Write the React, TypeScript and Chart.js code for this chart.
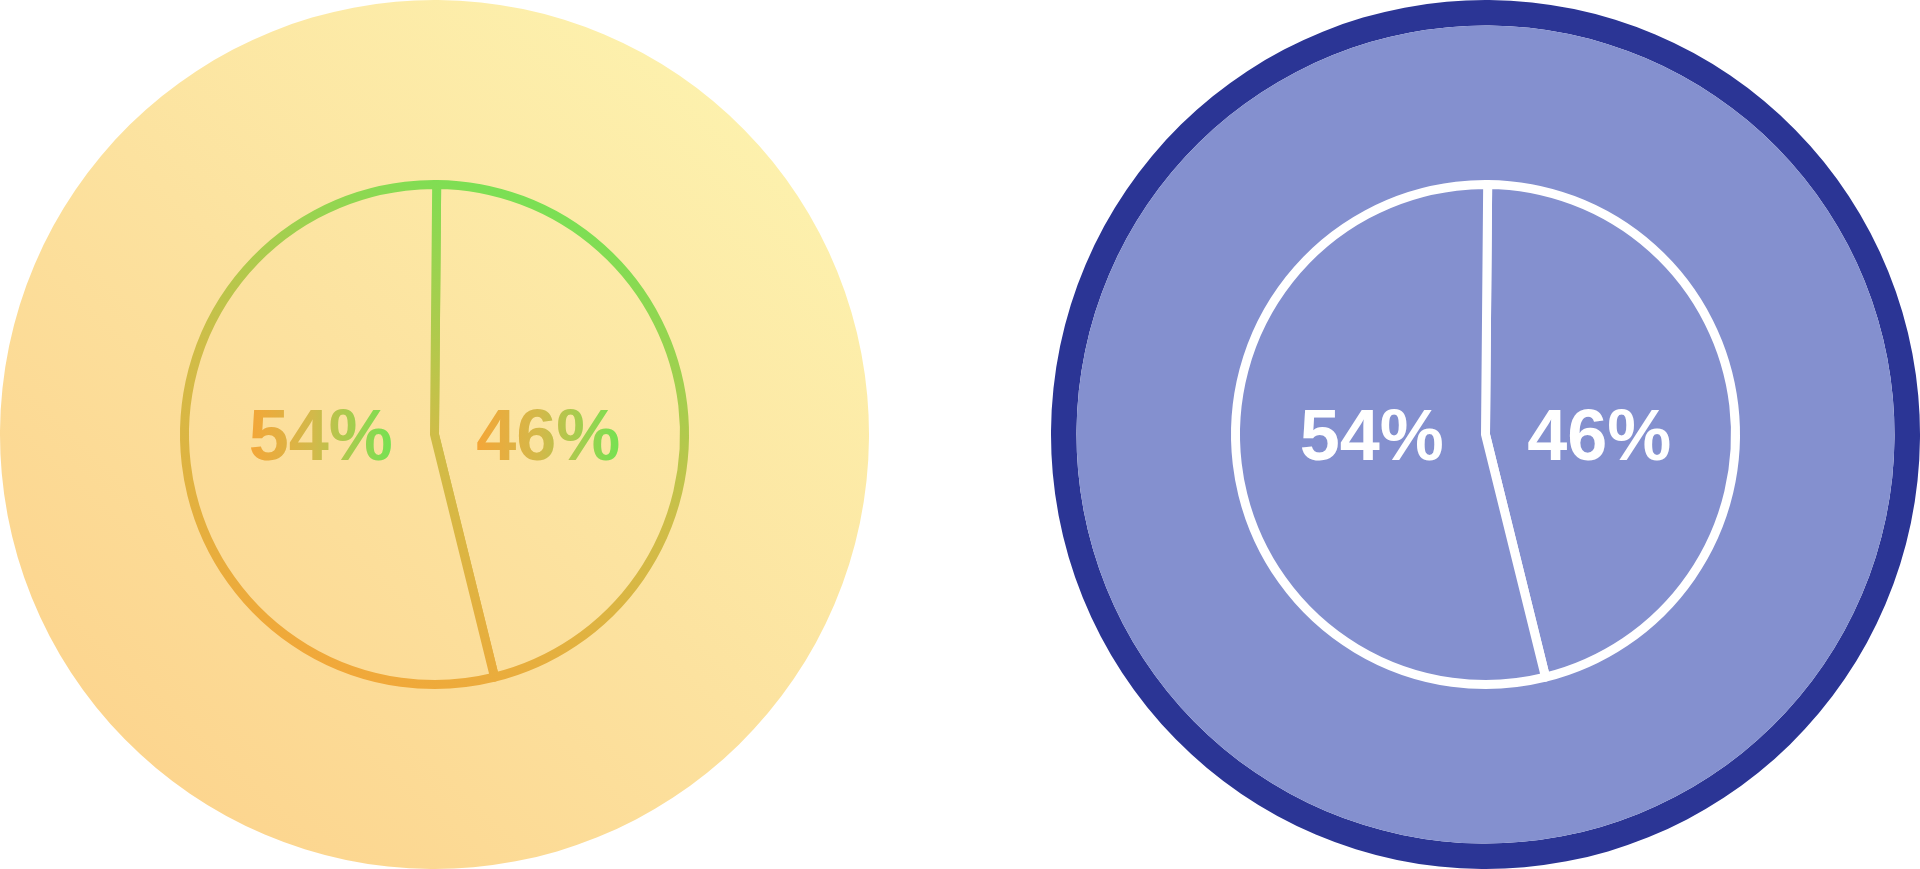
import React, { useEffect, useRef } from "react";
import { Chart, registerables } from "chart.js";

Chart.register(...registerables);

// ---- data ----
const sliceNames = ["Segment A", "Segment B"];
const sliceValues = [46, 54];
const discValue = [1];

const SIZE = 869;

type Variant = "warm" | "blue";

const sliceLabelPlugin = {
  id: "sliceLabels",
  afterDatasetsDraw(chart: any, _args: any, opts: any) {
    const ctx = chart.ctx;
    const idx = chart.data.datasets.length - 1;
    const meta = chart.getDatasetMeta(idx);
    const values = chart.data.datasets[idx].data as number[];
    const fontSize = opts.fontSize || 71;
    ctx.save();
    ctx.font = `bold ${fontSize}px "Liberation Sans", Arial, Helvetica, sans-serif`;
    ctx.textAlign = "center";
    ctx.textBaseline = "alphabetic";
    meta.data.forEach((arc: any, i: number) => {
      const p = arc.getProps(["x", "y", "startAngle", "endAngle", "outerRadius"], true);
      const mid = (p.startAngle + p.endAngle) / 2;
      const lx = p.x + Math.cos(mid) * p.outerRadius * 0.458;
      const ly = p.y + fontSize * 0.36;
      const text = `${values[i]}%`;
      let style: any = opts.color || "#ffffff";
      if (opts.gradientText) {
        const w = ctx.measureText(text).width;
        const g = ctx.createLinearGradient(lx - w / 2, 0, lx + w / 2, 0);
        g.addColorStop(0, "#f4a638");
        g.addColorStop(0.45, "#d2b94a");
        g.addColorStop(1, "#74e252");
        style = g;
      }
      ctx.fillStyle = style;
      ctx.fillText(text, lx, ly);
    });
    ctx.restore();
  },
};

function buildConfig(variant: Variant, ctx: CanvasRenderingContext2D) {
  const c = SIZE / 2;
  const outer = 434.5;
  const pieR = 250;
  let datasets: any[];
  if (variant === "warm") {
    const bg = ctx.createLinearGradient(90, 810, 780, 60);
    bg.addColorStop(0, "#fcd38c");
    bg.addColorStop(0.5, "#fce29f");
    bg.addColorStop(1, "#fdf3af");
    const stroke = ctx.createLinearGradient(c - 100, c + 260, c + 100, c - 260);
    stroke.addColorStop(0, "#f4a638");
    stroke.addColorStop(0.5, "#cfbd48");
    stroke.addColorStop(1, "#72e355");
    datasets = [
      {
        label: "disc",
        data: discValue,
        backgroundColor: bg,
        borderWidth: 0,
        weight: outer - pieR,
        order: 1,
        radius: outer,
      },
      {
        label: "share",
        data: sliceValues,
        backgroundColor: bg,
        borderColor: stroke,
        borderWidth: 9,
        borderJoinStyle: "round",
        weight: pieR,
        order: 0,
        radius: outer,
      },
    ];
  } else {
    const ringW = 25.5;
    datasets = [
      {
        label: "ring",
        data: discValue,
        backgroundColor: "#2b3595",
        borderWidth: 0,
        weight: ringW,
        order: 2,
        radius: outer,
      },
      {
        label: "disc",
        data: discValue,
        backgroundColor: "#8490cf",
        borderWidth: 0,
        weight: outer - ringW - pieR,
        order: 1,
        radius: outer,
      },
      {
        label: "share",
        data: sliceValues,
        backgroundColor: "#8490cf",
        borderColor: "#ffffff",
        borderWidth: 9,
        borderJoinStyle: "round",
        weight: pieR,
        order: 0,
        radius: outer,
      },
    ];
  }
  return {
    type: "pie" as const,
    data: { labels: sliceNames, datasets },
    options: {
      responsive: false,
      maintainAspectRatio: false,
      animation: false as const,
      events: [] as any[],
      rotation: 0.5,
      layout: { padding: 0 },
      plugins: {
        legend: { display: false },
        tooltip: { enabled: false },
        sliceLabels: { gradientText: variant === "warm", color: "#ffffff", fontSize: 72 },
      },
    },
    plugins: [sliceLabelPlugin],
  };
}

function PieIcon({ variant, left }: { variant: Variant; left: number }) {
  const ref = useRef<HTMLCanvasElement | null>(null);
  useEffect(() => {
    const canvas = ref.current;
    if (!canvas) return;
    const ctx = canvas.getContext("2d") as CanvasRenderingContext2D;
    const chart = new Chart(canvas, buildConfig(variant, ctx) as any);
    return () => chart.destroy();
  }, [variant]);
  return (
    <canvas
      ref={ref}
      width={SIZE}
      height={SIZE}
      style={{ position: "absolute", left, top: 0, width: SIZE, height: SIZE, display: "block" }}
    />
  );
}

export default function App() {
  return (
    <div
      style={{
        position: "fixed",
        left: 0,
        top: 0,
        width: 1920,
        height: 869,
        background: "#ffffff",
        overflow: "hidden",
      }}
    >
      <PieIcon variant="warm" left={0} />
      <PieIcon variant="blue" left={1051} />
    </div>
  );
}
